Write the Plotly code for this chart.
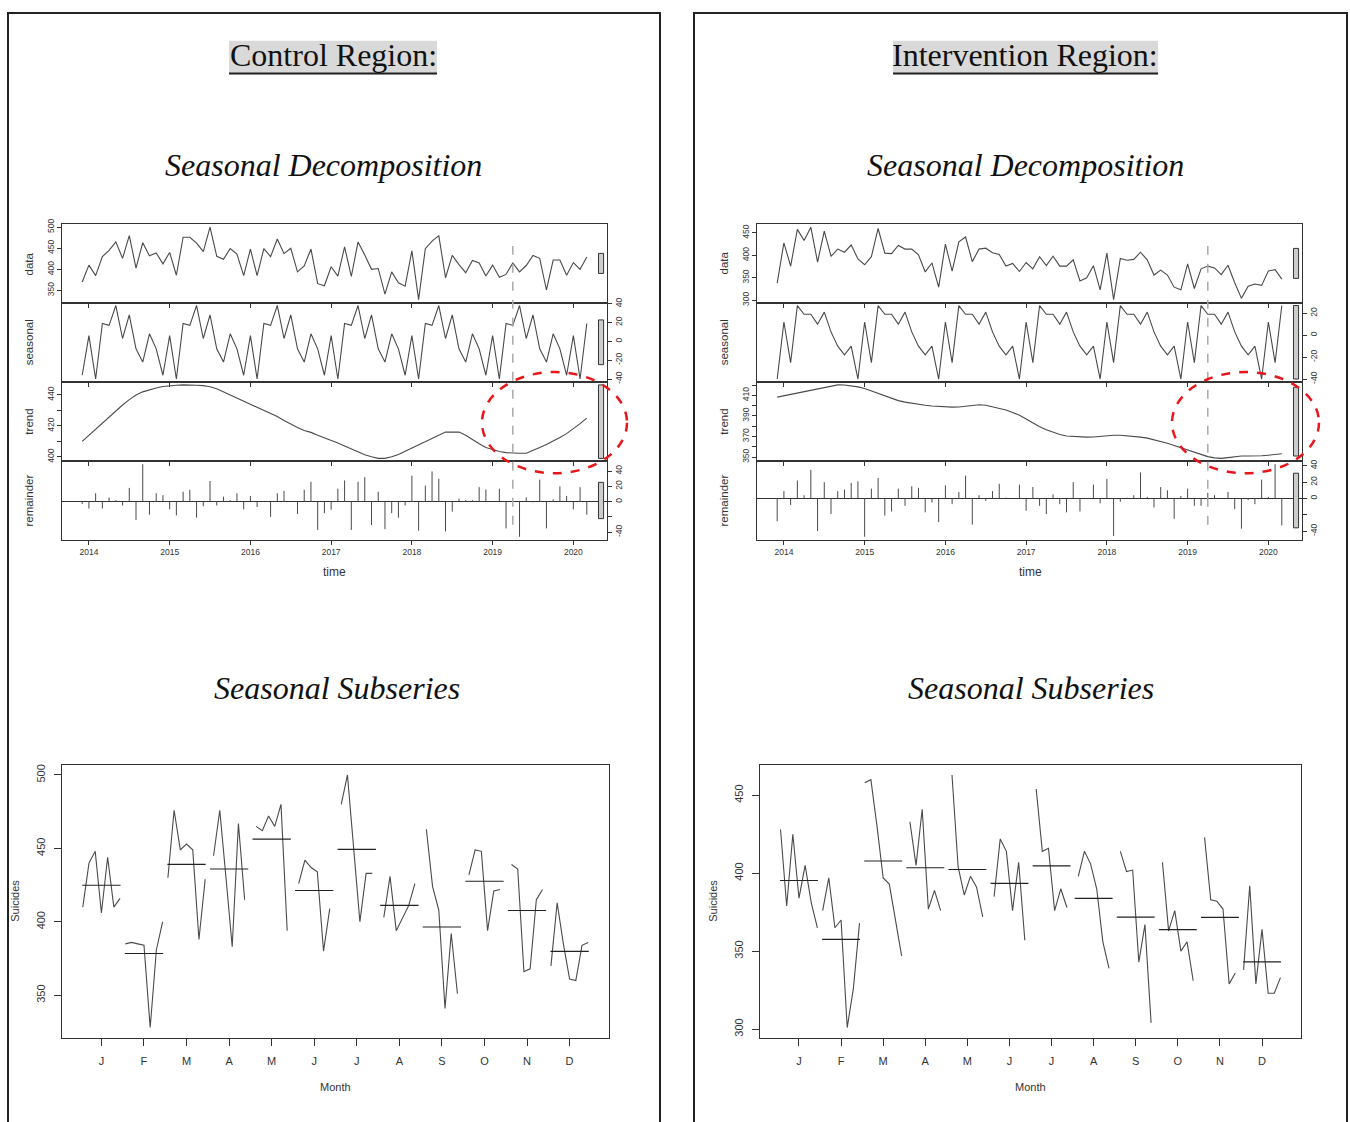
import plotly.graph_objects as go

W, H = 1350, 1122

# ---------------- data (monthly, Dec 2013 .. Mar 2020) ----------------
start_year, start_month, n_obs = 2013, 12, 76
intervention_start = 2019.25  # April 2019

control_data = [370,
    410, 385, 430, 445, 465, 426, 480, 403, 463, 432, 439, 413,
    440, 386, 476, 476, 462, 442, 500, 431, 424, 449, 436, 385,
    448, 385, 449, 430, 472, 437, 450, 394, 408, 448, 366, 361,
    406, 384, 453, 383, 465, 434, 400, 402, 341, 394, 368, 360,
    444, 328, 449, 467, 480, 380, 433, 411, 392, 421, 415, 384,
    410, 381, 388, 415, 394, 409, 433, 426, 351, 422, 422, 386,
    416, 400, 429]
control_seasonal = [6, -40, 19, 17, 38, 3, 28, -8, -22, 8, -8, -36]  # Jan..Dec
control_trend = [410, 414, 418, 422, 426, 430, 433.5, 437, 440, 442,
    443.5, 444.5, 445.5, 446, 446.3, 446.5, 446.5, 446.3, 446, 445.3,
    444, 442, 440.5, 438.5, 436.5, 434.5, 432.5, 430.5, 428.5, 426,
    423.5, 421, 419, 417, 415.8, 414, 412.5, 411, 409, 407,
    405, 403, 401.3, 400, 399, 399, 400, 401.5, 403.5, 405.8,
    408, 410, 412, 414, 416, 416, 416, 414, 411, 408.5,
    406, 404.5, 403.5, 402.7, 402.3, 402.3, 402.3, 404, 406, 408,
    410, 412.5, 415, 418, 421.5, 425]
control_remainder = [-3, -9, 11, -9, 5.5, 2, -5, 18, -24, 49,
    -17, 11, 8.5, -10, -18, 13, 15.5, -21, -6, 27,
    -5, 6.5, 2, 11, -10, 7.5, -7, 1, -20, 11,
    14, 0, -16, 15.5, 26, -37, -15, -10.6, 17, 27.7,
    -37, 26, 32, -30.6, 13, -36, -15, -21, -5, 34,
    -38, 21, 39.6, 30, -39, -13, 4, 2, 2, 19,
    16, 0, 17, -35, 0, -46, 5.5, -1, 29, -35,
    3, 20, 7.5, -10, 19, -17]

intervention_data = [338,
    428, 376, 458, 433, 463, 385, 454, 398, 414, 407, 423, 392,
    379, 397, 460, 405, 404, 422, 414, 414, 401, 363, 383, 329,
    425, 365, 430, 441, 386, 414, 416, 406, 402, 376, 382, 364,
    384, 370, 397, 377, 398, 376, 376, 390, 343, 350, 377, 323,
    405, 301, 393, 389, 391, 407, 390, 356, 367, 356, 329, 323,
    381, 326, 370, 376, 372, 357, 378, 339, 304, 331, 336, 333,
    365, 368, 347]
intervention_seasonal = [12, -25, 27, 19, 19, 10, 21, 3, -10, -18, -10, -40]
intervention_trend = [408.4, 409.8, 411.2, 412.6, 414, 415.4, 416.8, 418.2, 419.5, 420.3,
    420.2, 419.6, 418.4, 416.8, 414.5, 412, 409.5, 407, 405, 403.5,
    402.3, 401.3, 400.5, 399.8, 399.2, 398.8, 398.6, 398.8, 399.5, 400.3,
    401, 400.5, 399, 397.5, 395.8, 393.5, 390.8, 387, 383, 379.5,
    376.5, 374, 372, 370.5, 370, 369.6, 369.4, 369.6, 370.2, 370.8,
    371.3, 371.2, 370.8, 370, 369.4, 368.4, 367, 365.5, 363.5, 361.2,
    359, 356.6, 354.2, 352, 350.4, 349.2, 348.7, 349.4, 350.3, 351,
    351, 351, 351.2, 351.8, 352.5, 353.2]
intervention_remainder = [-28, 9, -8, 22, 4, 35, -40, 20, -19, 9,
    11, 19, 21, -47, 12, 25, -21, -16, 12, -9,
    15, 13, -17, -5, -29, 16, -7, 8, 28, -32,
    4, -3, 9, 18, 1, 0, 17, -15, 14, -9,
    -19, 5, -7, -17, 20, -16, 0, 17, -6, 24,
    -46, -4, 1, 4, 32, 2, -11, 14, 10, -25,
    3, 12, -9, -9, 7, 4, 0, 8, -13, -37,
    -2, -7, 23, 2, 42, -33]

month_labels = ["J", "F", "M", "A", "M", "J", "J", "A", "S", "O", "N", "D"]
year_ticks = [2014, 2015, 2016, 2017, 2018, 2019, 2020]

control_ticks = {
    "data": ([350, 400, 450, 500], ["350", "400", "450", "500"]),
    "seasonal": ([-40, -20, 0, 20, 40], ["-40", "-20", "0", "20", "40"]),
    "trend": ([400, 410, 420, 430, 440], ["400", "", "420", "", "440"]),
    "remainder": ([-40, -20, 0, 20, 40], ["-40", "", "0", "20", "40"]),
}
intervention_ticks = {
    "data": ([300, 350, 400, 450], ["300", "350", "400", "450"]),
    "seasonal": ([-40, -20, 0, 20], ["-40", "-20", "0", "20"]),
    "trend": ([350, 360, 370, 380, 390, 400, 410, 420], ["350", "", "370", "", "390", "", "410", ""]),
    "remainder": ([-40, -20, 0, 20, 40], ["-40", "", "0", "20", "40"]),
}
control_sub_ticks = [350, 400, 450, 500]
intervention_sub_ticks = [300, 350, 400, 450]

# ---------------- helpers ----------------
times = [start_year + (start_month - 1 + i) / 12 for i in range(n_obs)]
month_of = [(start_month - 1 + i) % 12 for i in range(n_obs)]

LINE = "#333333"
SERIES = "#4a4a4a"
SANS = "Liberation Sans, Arial, sans-serif"
SERIF = "Liberation Serif, Times New Roman, serif"


def px(x):
    return x / W


def py(y):
    return 1 - y / H


def r_range(vals):
    lo, hi = min(vals), max(vals)
    pad = 0.04 * (hi - lo)
    return [lo - pad, hi + pad]


fig = go.Figure()
layout = dict(width=W, height=H, margin=dict(l=0, r=0, t=0, b=0),
              paper_bgcolor="white", plot_bgcolor="white", showlegend=False)
shapes, annotations = [], []
axis_count = [0]


def add_axes(x0, x1, y0, y1, xkw, ykw):
    axis_count[0] += 1
    k = axis_count[0]
    sfx = "" if k == 1 else str(k)
    base = dict(showgrid=False, zeroline=False, showline=True, linecolor=LINE,
                linewidth=1, mirror=True, ticks="outside", tickcolor=LINE, tickwidth=1)
    xa = dict(base, domain=[px(x0), px(x1)], anchor="y" + sfx)
    xa.update(xkw)
    ya = dict(base, domain=[py(y1), py(y0)], anchor="x" + sfx)
    ya.update(ykw)
    layout["xaxis" + sfx] = xa
    layout["yaxis" + sfx] = ya
    return "x" + sfx, "y" + sfx


def text(t, x, y, size, family=SANS, angle=0, color=LINE):
    annotations.append(dict(text=t, x=px(x), y=py(y), xref="paper", yref="paper",
                            showarrow=False, textangle=angle, xanchor="center", yanchor="middle",
                            font=dict(size=size, family=family, color=color)))


panel_y = [(220, 299), (299, 379), (379, 459), (459, 538)]


def decomposition(x0, x1, data, cycle, trend, remainder, ticks, label_x, time_x):
    seasonal = [cycle[m] for m in month_of]
    comps = [("data", data, "left"), ("seasonal", seasonal, "right"),
             ("trend", trend, "left"), ("remainder", remainder, "right")]
    xr = r_range(times)
    mx = min(max(v) - min(v) for _, v, _ in comps)
    dx = (xr[1] - xr[0]) / 64
    tfont = dict(size=8.5, family=SANS, color=LINE)
    xk = None
    for j, (name, vals, side) in enumerate(comps):
        y0, y1 = panel_y[j]
        tv, tt = ticks[name]
        xk, yk = add_axes(
            x0, x1, y0, y1,
            dict(range=xr, tickvals=year_ticks, ticktext=[str(t) for t in year_ticks],
                 showticklabels=(j == 3), ticklen=4, tickfont=tfont),
            dict(range=r_range(vals), side=side, tickvals=tv, ticktext=tt, tickangle=-90,
                 ticklen=4, tickfont=tfont, zeroline=(name == "remainder"),
                 zerolinecolor=LINE, zerolinewidth=1))
        if name == "remainder":
            xs, ys = [], []
            for t, r in zip(times, vals):
                xs += [t, t, None]
                ys += [0, r, None]
            fig.add_trace(go.Scatter(x=xs, y=ys, mode="lines", xaxis=xk, yaxis=yk,
                                     line=dict(color=SERIES, width=1), hoverinfo="skip"))
        else:
            fig.add_trace(go.Scatter(x=times, y=vals, mode="lines", xaxis=xk, yaxis=yk,
                                     line=dict(color=SERIES, width=1.1), hoverinfo="skip"))
        mid = (min(vals) + max(vals)) / 2
        shapes.append(dict(type="rect", xref=xk, yref=yk, x0=xr[1] - dx, x1=xr[1] - 0.4 * dx,
                           y0=mid - mx / 2, y1=mid + mx / 2, fillcolor="#cccccc",
                           line=dict(color=LINE, width=1), layer="above"))
        text(name, label_x, (y0 + y1) / 2, 11.5, angle=-90)
    shapes.append(dict(type="line", xref=xk, yref="paper", x0=intervention_start,
                       x1=intervention_start, y0=py(523), y1=py(242),
                       line=dict(color="#aaaaaa", width=1.5, dash="dash")))
    text("time", time_x, 571, 12)


def subseries(x0, x1, data, yticks, label_x, month_x):
    groups = [[] for _ in range(12)]
    for v, m in zip(data, month_of):
        groups[m].append(v)
    xs, ys, mxs, mys = [], [], [], []
    for m, g in enumerate(groups):
        n = len(g)
        for k, v in enumerate(g):
            xs.append(m + 1 + (k - (n - 1) / 2) * 0.146)
            ys.append(v)
        xs.append(None)
        ys.append(None)
        mean = sum(g) / n
        mxs += [m + 1 - 0.45, m + 1 + 0.45, None]
        mys += [mean, mean, None]
    tfont = dict(size=11, family=SANS, color=LINE)
    xk, yk = add_axes(
        x0, x1, 765, 1040,
        dict(range=[0.074, 12.926], tickvals=list(range(1, 13)), ticktext=month_labels,
             ticklen=7, ticklabelstandoff=6, tickfont=tfont),
        dict(range=r_range(data), tickvals=yticks, tickangle=-90, ticklen=7,
             ticklabelstandoff=5, tickfont=tfont))
    fig.add_trace(go.Scatter(x=xs, y=ys, mode="lines", xaxis=xk, yaxis=yk,
                             line=dict(color=SERIES, width=1.1), hoverinfo="skip"))
    fig.add_trace(go.Scatter(x=mxs, y=mys, mode="lines", xaxis=xk, yaxis=yk,
                             line=dict(color="#222222", width=1.1), hoverinfo="skip"))
    text("Suicides", label_x, 902, 11, angle=-90)
    text("Month", month_x, 1090, 11)


# ---------------- control region ----------------
decomposition(62, 607, control_data, control_seasonal, control_trend, control_remainder,
              control_ticks, 29, 334)
subseries(62, 609, control_data, control_sub_ticks, 15, 335)

# ---------------- intervention region ----------------
decomposition(757, 1302, intervention_data, intervention_seasonal, intervention_trend,
              intervention_remainder, intervention_ticks, 724, 1030)
subseries(760, 1301, intervention_data, intervention_sub_ticks, 713, 1030)

# ---------------- frames, headings, highlights ----------------
for fx0, fx1 in [(8, 660), (694, 1347)]:
    shapes.append(dict(type="rect", xref="paper", yref="paper", x0=px(fx0), x1=px(fx1),
                       y0=-0.05, y1=py(7), line=dict(color="#222222", width=2),
                       fillcolor="rgba(0,0,0,0)", layer="below"))

for hx0, hx1 in [(229, 437), (893, 1158)]:
    shapes.append(dict(type="rect", xref="paper", yref="paper", x0=px(hx0), x1=px(hx1),
                       y0=py(69), y1=py(35), fillcolor="#d9d9d9", line=dict(width=0),
                       layer="below"))
    shapes.append(dict(type="line", xref="paper", yref="paper", x0=px(hx0), x1=px(hx1),
                       y0=py(68), y1=py(68), line=dict(color="#222222", width=2)))

text("Control Region:", 333, 49, 32, family=SERIF, color="#111111")
text("Intervention Region:", 1025, 49, 32, family=SERIF, color="#111111")
text("<i>Seasonal Decomposition</i>", 323, 160, 32, family=SERIF, color="#111111")
text("<i>Seasonal Decomposition</i>", 1025, 160, 32, family=SERIF, color="#111111")
text("<i>Seasonal Subseries</i>", 337, 688, 32, family=SERIF, color="#111111")
text("<i>Seasonal Subseries</i>", 1031, 688, 32, family=SERIF, color="#111111")

# red dashed highlight ellipses around the post-intervention trend
for ex0, ex1 in [(482, 627), (1172, 1319)]:
    shapes.append(dict(type="circle", xref="paper", yref="paper", x0=px(ex0), x1=px(ex1),
                       y0=py(471), y1=py(369), line=dict(color="#e8161b", width=2.5, dash="dash")))

layout["shapes"] = shapes
layout["annotations"] = annotations
fig.update_layout(**layout)
fig.write_html("out.html", config={"displayModeBar": False},
               post_script="document.body.style.margin='0px';document.body.style.overflow='hidden';")
